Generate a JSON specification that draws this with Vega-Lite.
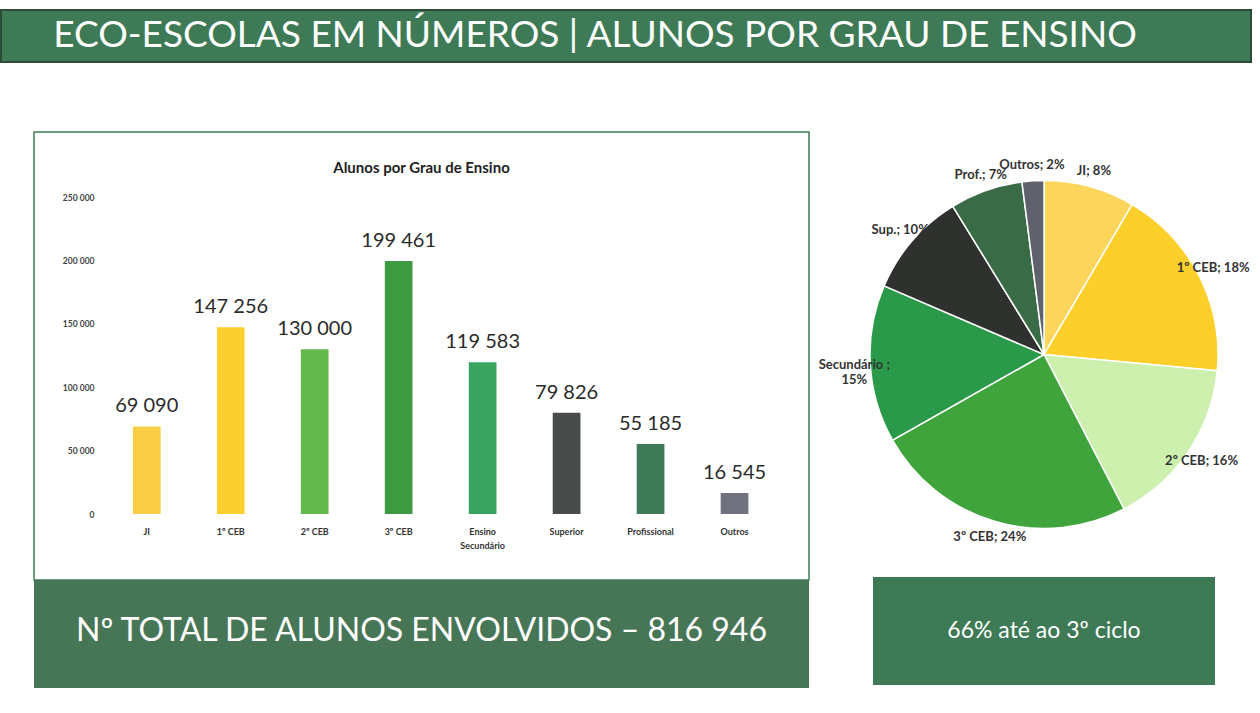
{
  "$schema": "https://vega.github.io/schema/vega-lite/v6.json",
  "background": "white",
  "padding": {"left": 0, "top": 9, "right": 0, "bottom": 0},
  "bounds": "flush",
  "spacing": 70,
  "config": {
    "view": {"stroke": null},
    "font": "Lato",
    "text": {"font": "Lato"},
    "locale": {"number": {"decimal": ",", "thousands": " ", "grouping": [3], "currency": ["", " €"]}}
  },
  "resolve": {"scale": {"color": "independent"}},
  "vconcat": [
    {
      "width": 1250,
      "height": 52,
      "view": {"fill": "#3f7a57", "stroke": "#2e4a38", "strokeWidth": 2},
      "data": {"values": [{"t": "ECO-ESCOLAS EM NÚMEROS | ALUNOS POR GRAU DE ENSINO"}]},
      "mark": {"type": "text", "fontSize": 37, "color": "white", "dx": -31},
      "encoding": {"text": {"field": "t"}}
    },
    {
      "hconcat": [
        {
          "hconcat": [
            {
              "width": 1,
              "height": 1,
              "data": {"values": [{"t": ""}]},
              "mark": {"type": "text"},
              "encoding": {"text": {"field": "t"}}
            },
            {
              "vconcat": [
                {
                  "width": 775,
                  "height": 448,
                  "view": {"fill": "white", "stroke": "#3e7d56", "strokeWidth": 1.5},
                  "title": {"text": "Alunos por Grau de Ensino", "offset": -44, "fontSize": 15, "fontWeight": "bold", "color": "#222", "font": "Lato", "anchor": "middle"},
                  "data": {"values": [
                    {"cat": "JI", "value": 69090},
                    {"cat": "1º CEB", "value": 147256},
                    {"cat": "2º CEB", "value": 130000},
                    {"cat": "3º CEB", "value": 199461},
                    {"cat": "Ensino Secundário", "value": 119583},
                    {"cat": "Superior", "value": 79826},
                    {"cat": "Profissional", "value": 55185},
                    {"cat": "Outros", "value": 16545}
                  ]},
                  "encoding": {
                    "x": {
                      "field": "cat",
                      "type": "nominal",
                      "sort": null,
                      "scale": {"paddingInner": 0.67, "paddingOuter": 0.95, "align": 0.62},
                      "axis": {
                        "title": null,
                        "orient": "bottom",
                        "offset": -55,
                        "domain": false,
                        "ticks": false,
                        "tickSize": 0,
                        "labelPadding": 2,
                        "labelAngle": 0,
                        "labelFontSize": 9,
                        "labelFontWeight": "bold",
                        "labelColor": "#333",
                        "labelLineHeight": 14,
                        "labelExpr": "datum.value == 'Ensino Secundário' ? ['Ensino', 'Secundário'] : datum.label"
                      }
                    },
                    "y": {
                      "field": "value",
                      "type": "quantitative",
                      "scale": {"domain": [-52050, 301262], "nice": false, "zero": false},
                      "axis": {
                        "title": null,
                        "offset": -62,
                        "values": [0, 50000, 100000, 150000, 200000, 250000],
                        "format": ",d",
                        "domain": false,
                        "ticks": false,
                        "grid": false,
                        "labelPadding": 2,
                        "labelFontSize": 8.5,
                        "labelFontWeight": "bold",
                        "labelColor": "#444"
                      }
                    }
                  },
                  "layer": [
                    {
                      "mark": {"type": "bar"},
                      "encoding": {
                        "y2": {"datum": 0},
                        "color": {
                          "field": "cat",
                          "type": "nominal",
                          "scale": {
                            "domain": ["JI", "1º CEB", "2º CEB", "3º CEB", "Ensino Secundário", "Superior", "Profissional", "Outros"],
                            "range": ["#f9cd45", "#fccf2f", "#63b74b", "#3d9a41", "#3aa35f", "#474c4a", "#3f7a58", "#70727f"]
                          },
                          "legend": null
                        }
                      }
                    },
                    {
                      "mark": {"type": "text", "dy": -20, "fontSize": 20, "color": "#2b2b2b"},
                      "encoding": {
                        "text": {"field": "value", "type": "quantitative", "format": ",d"}
                      }
                    }
                  ]
                },
                {
                  "width": 775,
                  "height": 108,
                  "view": {"fill": "#477657"},
                  "data": {"values": [{"t": "Nº TOTAL DE ALUNOS ENVOLVIDOS – 816 946"}]},
                  "mark": {"type": "text", "fontSize": 32, "color": "white", "dy": -3},
                  "encoding": {"text": {"field": "t"}}
                }
              ],
              "spacing": 0,
              "bounds": "flush"
            }
          ],
          "spacing": 32,
          "bounds": "flush"
        },
        {
          "vconcat": [
            {
              "width": 342,
              "height": 445,
              "data": {"values": [
                {"slice": "JI", "value": 69090, "label": "JI; 8%", "ord": 1},
                {"slice": "1º CEB", "value": 147256, "label": "1º CEB; 18%", "ord": 2},
                {"slice": "2º CEB", "value": 130000, "label": "2º CEB; 16%", "ord": 3},
                {"slice": "3º CEB", "value": 199461, "label": "3º CEB; 24%", "ord": 4},
                {"slice": "Secundário", "value": 119583, "label": "Secundário ;\n15%", "ord": 5},
                {"slice": "Sup.", "value": 79826, "label": "Sup.; 10%", "ord": 6},
                {"slice": "Prof.", "value": 55185, "label": "Prof.; 7%", "ord": 7},
                {"slice": "Outros", "value": 16545, "label": "Outros; 2%", "ord": 8}
              ]},
              "encoding": {
                "theta": {"field": "value", "type": "quantitative", "stack": true},
                "order": {"field": "ord", "type": "quantitative"}
              },
              "layer": [
                {
                  "mark": {"type": "arc", "outerRadius": 174, "stroke": "white", "strokeWidth": 1.5},
                  "encoding": {
                    "color": {
                      "field": "slice",
                      "type": "nominal",
                      "scale": {
                        "domain": ["JI", "1º CEB", "2º CEB", "3º CEB", "Secundário", "Sup.", "Prof.", "Outros"],
                        "range": ["#fcd55a", "#fdcf2a", "#cdf0ae", "#40a43c", "#2a9a4a", "#2f312f", "#3a6b47", "#5f626c"]
                      },
                      "legend": null
                    }
                  }
                },
                {
                  "mark": {"type": "text", "radius": 190, "fontSize": 13, "fontWeight": "bold", "color": "#333", "lineBreak": "\n"},
                  "encoding": {"text": {"field": "label"}}
                }
              ]
            },
            {
              "width": 342,
              "height": 108,
              "view": {"fill": "#3e7a56"},
              "data": {"values": [{"t": "66% até ao 3º ciclo"}]},
              "mark": {"type": "text", "fontSize": 23, "color": "white"},
              "encoding": {"text": {"field": "t"}}
            }
          ],
          "spacing": 0,
          "bounds": "flush"
        }
      ],
      "spacing": 8,
      "bounds": "full",
      "resolve": {"scale": {"color": "independent"}}
    }
  ]
}
